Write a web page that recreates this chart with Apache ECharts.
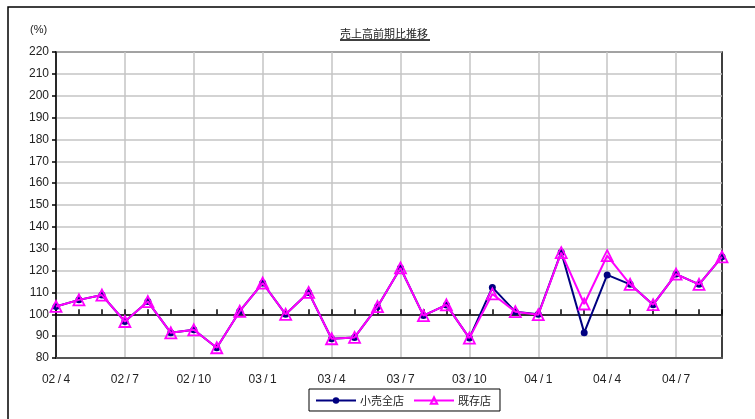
<!DOCTYPE html>
<html>
<head>
<meta charset="utf-8">
<script src="https://cdn.jsdelivr.net/npm/echarts@6/dist/echarts.min.js"></script>
<style>html,body{margin:0;padding:0;background:#fff;}#c{width:755px;height:419px;}</style>
</head>
<body>
<div id="c"></div>
<script>
var categories = ["02/4","02/5","02/6","02/7","02/8","02/9","02/10","02/11","02/12",
  "03/1","03/2","03/3","03/4","03/5","03/6","03/7","03/8","03/9","03/10","03/11","03/12",
  "04/1","04/2","04/3","04/4","04/5","04/6","04/7","04/8","04/9"];
var allStores = [103.6,106.6,108.8,96.7,105.8,91.5,92.9,84.7,101.4,
  114.3,100.0,110.0,88.8,89.4,103.5,121.2,99.4,104.3,89.1,112.3,101.2,
  100.0,128.4,91.6,118.0,113.7,104.4,118.4,113.7,126.3];
var existingStores = [103.6,106.6,108.8,96.7,105.8,91.5,92.9,84.7,101.4,
  114.3,100.0,110.0,88.8,89.4,103.5,121.2,99.4,104.3,89.1,109.3,101.2,
  99.8,128.2,104.7,126.8,113.7,104.4,118.4,113.7,126.3];
var yTicks = {min: 80, max: 220, interval: 10};
var seriesNames = ["小売全店", "既存店"];

var chart = echarts.init(document.getElementById('c'));
var gridTop = 52, gridBottom = 61, gridH = 419 - gridTop - gridBottom;
var baseOffset = -gridH * (100 - yTicks.min) / (yTicks.max - yTicks.min);
var font = 'Liberation Sans, Arial, sans-serif';
chart.setOption({
  animation: false,
  graphic: [
    {type: 'rect', shape: {x: 8, y: 7, width: 780, height: 440}, style: {fill: 'none', stroke: '#000', lineWidth: 1.5}, silent: true},
    {type: 'text', left: 340, top: 28, style: {text: '売上高前期比推移', font: '11px "Noto Sans CJK JP", sans-serif', fill: '#222'}},
    {type: 'line', shape: {x1: 340, y1: 40, x2: 430, y2: 40}, style: {stroke: '#000', lineWidth: 1.5}},
    {type: 'text', left: 30, top: 24, style: {text: '(%)', font: '11px ' + font, fill: '#222'}}
  ],
  grid: {left: 56, right: 33, top: gridTop, bottom: gridBottom, show: true, borderColor: '#000', borderWidth: 1.5, backgroundColor: '#fff'},
  legend: {
    left: 309, top: 389, padding: [6, 9, 5, 6], itemWidth: 40, itemHeight: 8, itemGap: 9,
    borderColor: '#000', borderWidth: 1, backgroundColor: '#fff',
    textStyle: {fontSize: 11, color: '#222', fontFamily: '"Noto Sans CJK JP", sans-serif', padding: [0, 0, 0, -1]},
    data: seriesNames
  },
  xAxis: [
    {
      type: 'category', data: categories, boundaryGap: false, position: 'bottom',
      axisLine: {lineStyle: {color: '#555', width: 2}},
      axisTick: {show: false},
      axisLabel: {interval: 2, margin: 16, fontSize: 12, color: '#222', fontFamily: font,
        formatter: function (v) { return v.replace('/', '\u2009/\u2009'); }},
      splitLine: {show: true, interval: 2, lineStyle: {color: '#c4c4c4', width: 1.5}}
    },
    {
      type: 'category', data: categories, boundaryGap: false, position: 'bottom', offset: baseOffset,
      axisLine: {lineStyle: {color: '#000', width: 1.5}},
      axisTick: {show: true, inside: true, length: 5, interval: 0, lineStyle: {color: '#000', width: 1.5}},
      axisLabel: {show: false},
      splitLine: {show: false}
    }
  ],
  yAxis: {
    type: 'value', min: yTicks.min, max: yTicks.max, interval: yTicks.interval,
    axisLine: {show: true, lineStyle: {color: '#000', width: 1.5}},
    axisTick: {show: true, length: 4, lineStyle: {color: '#000', width: 1.5}},
    axisLabel: {margin: 7, fontSize: 12, color: '#222', fontFamily: font},
    splitLine: {show: true, lineStyle: {color: '#c4c4c4', width: 1.5}}
  },
  series: [
    {
      name: seriesNames[0], type: 'line', data: allStores, xAxisIndex: 0,
      symbol: 'circle', symbolSize: 7,
      lineStyle: {color: '#000080', width: 2},
      itemStyle: {color: '#000080'}, z: 3
    },
    {
      name: seriesNames[1], type: 'line', data: existingStores, xAxisIndex: 0,
      symbol: 'triangle', symbolSize: 11,
      lineStyle: {color: '#ff00ff', width: 2},
      itemStyle: {color: 'rgba(255,255,255,0)', borderColor: '#ff00ff', borderWidth: 1.8}, z: 4
    }
  ]
});
</script>
</body>
</html>
